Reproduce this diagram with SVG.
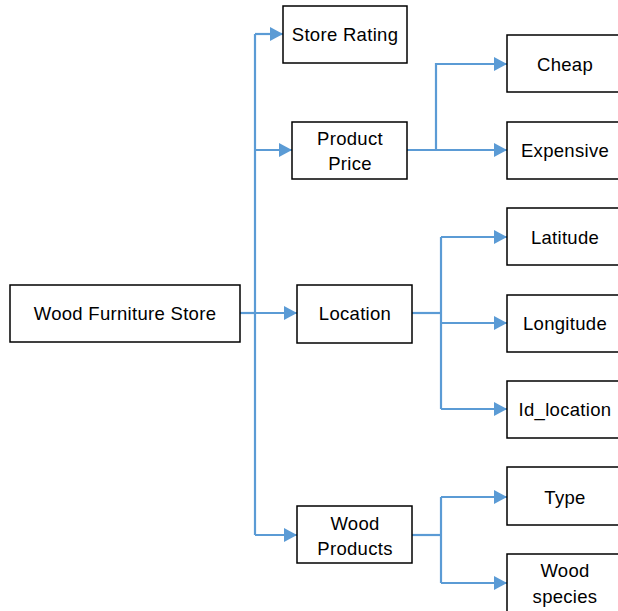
<svg xmlns="http://www.w3.org/2000/svg" width="618" height="611" viewBox="0 0 618 611">
<style>
rect{fill:#fff;stroke:#000;stroke-width:1.5}
text{font-family:"Liberation Sans",Arial,sans-serif;font-size:18.5px;letter-spacing:0.3px;fill:#000;text-anchor:middle}
.c{fill:none;stroke:#5B9BD5;stroke-width:2.2}
</style>
<defs>
<marker id="a" markerUnits="userSpaceOnUse" markerWidth="14" markerHeight="14" refX="13" refY="7" orient="auto"><path d="M0,0L13,7L0,14Z" fill="#5B9BD5"/></marker>
</defs>
<g id="connectors">
<path class="c" d="M240,313H255"/>
<path class="c" d="M255,34V535"/>
<path class="c" d="M255,34H283" marker-end="url(#a)"/>
<path class="c" d="M255,150H292" marker-end="url(#a)"/>
<path class="c" d="M255,313H297" marker-end="url(#a)"/>
<path class="c" d="M255,535H297" marker-end="url(#a)"/>
<path class="c" d="M407,150H436V64H507" marker-end="url(#a)"/>
<path class="c" d="M436,150H507" marker-end="url(#a)"/>
<path class="c" d="M412,313H441"/>
<path class="c" d="M441,237V409"/>
<path class="c" d="M441,237H507" marker-end="url(#a)"/>
<path class="c" d="M441,323H507" marker-end="url(#a)"/>
<path class="c" d="M441,409H507" marker-end="url(#a)"/>
<path class="c" d="M412,535H441"/>
<path class="c" d="M441,497V583"/>
<path class="c" d="M441,497H507" marker-end="url(#a)"/>
<path class="c" d="M441,583H507" marker-end="url(#a)"/>
</g>
<g id="root"><rect x="10" y="285" width="230" height="57"/><text x="125" y="320">Wood Furniture Store</text></g>
<g id="store-rating"><rect x="283" y="6" width="124" height="57"/><text x="345" y="41">Store Rating</text></g>
<g id="product-price"><rect x="292" y="122" width="115" height="57"/><text x="350" y="145">Product</text><text x="350" y="170">Price</text></g>
<g id="location"><rect x="297" y="285" width="115" height="58"/><text x="355" y="320">Location</text></g>
<g id="wood-products"><rect x="297" y="506" width="115" height="57"/><text x="355" y="530">Wood</text><text x="355" y="555">Products</text></g>
<g id="cheap"><rect x="507" y="35" width="116" height="57"/><text x="565" y="71">Cheap</text></g>
<g id="expensive"><rect x="507" y="122" width="116" height="57"/><text x="565" y="157">Expensive</text></g>
<g id="latitude"><rect x="507" y="208" width="116" height="57"/><text x="565" y="244">Latitude</text></g>
<g id="longitude"><rect x="507" y="295" width="116" height="57"/><text x="565" y="330">Longitude</text></g>
<g id="id-location"><rect x="507" y="381" width="116" height="57"/><text x="565" y="416">Id_location</text></g>
<g id="type"><rect x="507" y="467" width="116" height="58"/><text x="565" y="504">Type</text></g>
<g id="wood-species"><rect x="507" y="554" width="116" height="70"/><text x="565" y="577">Wood</text><text x="565" y="603">species</text></g>
</svg>
